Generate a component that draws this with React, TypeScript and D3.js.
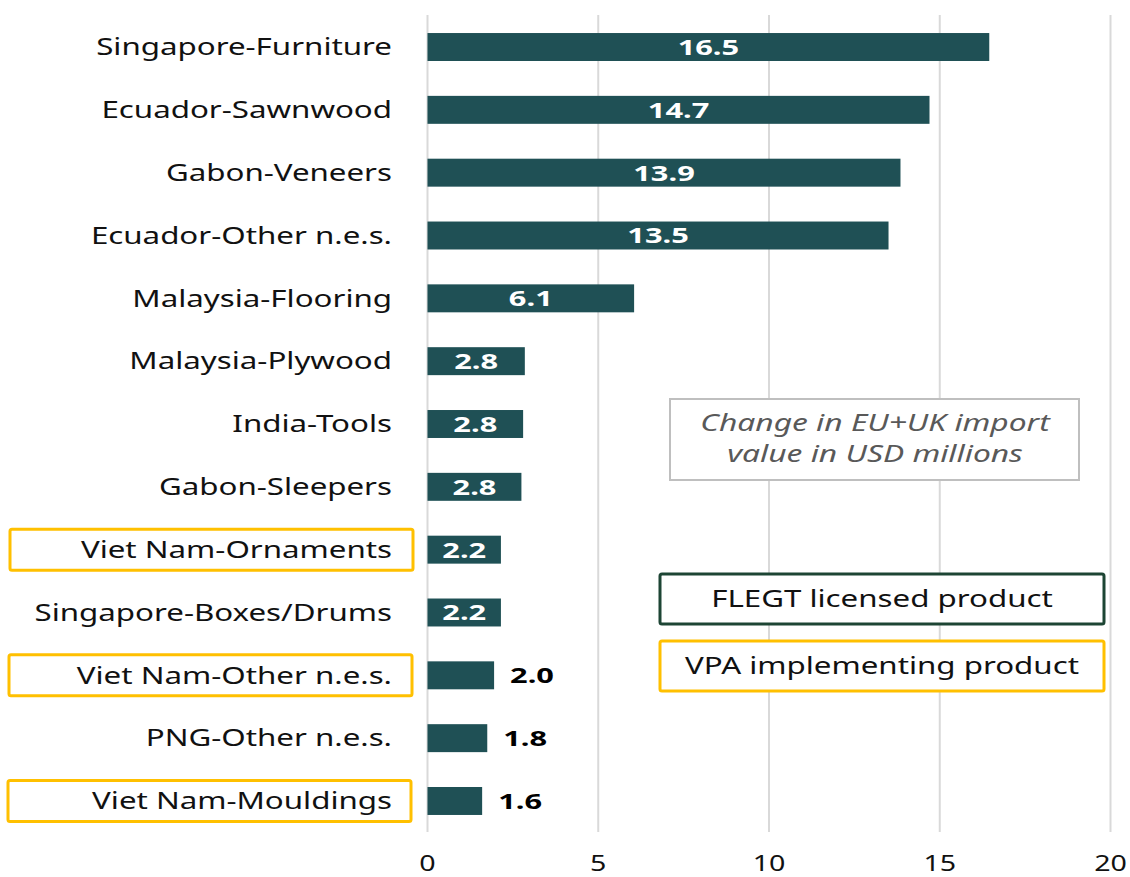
import React from "react";
import * as d3 from "d3";

const categories = [
  "Singapore-Furniture",
  "Ecuador-Sawnwood",
  "Gabon-Veneers",
  "Ecuador-Other n.e.s.",
  "Malaysia-Flooring",
  "Malaysia-Plywood",
  "India-Tools",
  "Gabon-Sleepers",
  "Viet Nam-Ornaments",
  "Singapore-Boxes/Drums",
  "Viet Nam-Other n.e.s.",
  "PNG-Other n.e.s.",
  "Viet Nam-Mouldings",
];
const values = [16.5, 14.7, 13.9, 13.5, 6.1, 2.8, 2.8, 2.8, 2.2, 2.2, 2.0, 1.8, 1.6];
const barLengths = [16.45, 14.7, 13.85, 13.5, 6.05, 2.85, 2.8, 2.75, 2.15, 2.15, 1.95, 1.75, 1.6];
const vpaCategories = ["Viet Nam-Ornaments", "Viet Nam-Other n.e.s.", "Viet Nam-Mouldings"];
const xTicks = [0, 5, 10, 15, 20];
const noteLines = ["Change in EU+UK import", "value in USD millions"];
const legendItems = ["FLEGT licensed product", "VPA implementing product"];

const W = 1130;
const H = 877;
const FONT = "'Noto Sans', 'Open Sans', sans-serif";
const BAR = "#1f5055";
const YELLOW = "#ffc000";
const DARKGREEN = "#1d4534";
const SX = 1.36;

function T({
  x,
  y,
  sx = SX,
  children,
  ...rest
}: {
  x: number;
  y: number;
  sx?: number;
  children: React.ReactNode;
  [k: string]: any;
}) {
  return (
    <g transform={`translate(${x},${y}) scale(${sx},1)`}>
      <text x={0} y={0} dy="0.36em" {...rest}>
        {children}
      </text>
    </g>
  );
}

export default function App() {
  const x = d3.scaleLinear().domain([0, 20]).range([427.5, 1110.5]);
  const y = d3
    .scaleBand<string>()
    .domain(categories)
    .range([15.6, 832.4])
    .paddingInner(0.555)
    .paddingOuter(0.2775);
  const bw = y.bandwidth();
  const insideThreshold = 2.1;

  return (
    <svg
      width={W}
      height={H}
      style={{ position: "absolute", left: 0, top: 0, background: "#fff" }}
      fontFamily={FONT}
    >
      {xTicks.map((t) => (
        <line key={t} x1={x(t)} x2={x(t)} y1={15} y2={832} stroke="#d9d9d9" strokeWidth={2} />
      ))}
      {categories.map((c, i) => {
        const yy = y(c)!;
        const v = values[i];
        const len = barLengths[i];
        const inside = v > insideThreshold;
        return (
          <g key={c}>
            <rect x={x(0)} y={yy} width={x(len) - x(0)} height={bw} fill={BAR} />
            <T
              x={inside ? (x(0) + x(len)) / 2 : x(len) + 16}
              y={yy + bw / 2}
              sx={1.4}
              textAnchor={inside ? "middle" : "start"}
              fontWeight="bold"
              fontSize={22}
              fill={inside ? "#fff" : "#000"}
            >
              {v.toFixed(1)}
            </T>
            <T x={392} y={yy + bw / 2} textAnchor="end" fontSize={23} fill="#111">
              {c}
            </T>
          </g>
        );
      })}
      {vpaCategories.map((c, i) => {
        const cy = y(c)! + bw / 2;
        return (
          <rect
            key={c}
            x={10 - i}
            y={cy - 20.5}
            width={403}
            height={41}
            rx={2}
            fill="none"
            stroke={YELLOW}
            strokeWidth={3}
          />
        );
      })}
      {xTicks.map((t) => (
        <T key={t} x={x(t)} y={863} sx={1.3} textAnchor="middle" fontSize={22} fill="#111">
          {t}
        </T>
      ))}
      <rect x={670} y={399} width={409} height={81} fill="#fff" stroke="#bfbfbf" strokeWidth={2} />
      {noteLines.map((l, i) => (
        <T
          key={l}
          x={875}
          y={423 + i * 31}
          sx={1.38}
          textAnchor="middle"
          fontStyle="italic"
          fontSize={23}
          fill="#595959"
        >
          {l}
        </T>
      ))}
      {legendItems.map((l, i) => (
        <g key={l}>
          <rect
            x={660}
            y={574 + i * 67}
            width={444}
            height={50}
            rx={2}
            fill="#fff"
            stroke={i === 0 ? DARKGREEN : YELLOW}
            strokeWidth={3}
          />
          <T x={882} y={599 + i * 67} textAnchor="middle" fontSize={23} fill="#111">
            {l}
          </T>
        </g>
      ))}
    </svg>
  );
}
